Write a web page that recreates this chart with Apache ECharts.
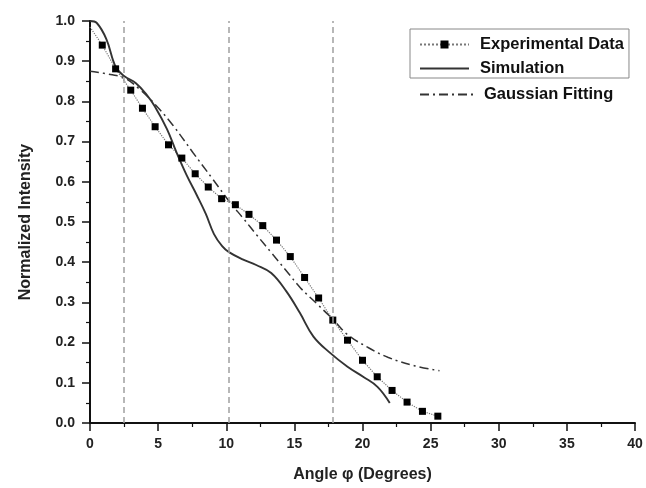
<!DOCTYPE html>
<html>
<head>
<meta charset="utf-8">
<script src="https://cdn.jsdelivr.net/npm/echarts@6/dist/echarts.min.js"></script>
<style>html,body{margin:0;padding:0;background:#fff}#c{width:646px;height:488px}</style>
</head>
<body>
<div id="c"></div>
<script>
var expX = [0, 0.9, 1.88, 2.99, 3.85, 4.78, 5.76, 6.74, 7.72, 8.68, 9.66, 10.67, 11.67, 12.68, 13.69, 14.7, 15.75, 16.78, 17.82, 18.9, 20.0, 21.08, 22.17, 23.27, 24.4, 25.53];
var expY = [0.985, 0.94, 0.881, 0.828, 0.783, 0.737, 0.692, 0.659, 0.62, 0.587, 0.558, 0.543, 0.519, 0.491, 0.455, 0.414, 0.362, 0.311, 0.256, 0.206, 0.156, 0.115, 0.081, 0.052, 0.029, 0.017];
var simX = [0, 0.5, 1.2, 1.9, 2.55, 3.35, 4.15, 4.75, 5.65, 6.35, 7.1, 7.85, 8.5, 9.1, 9.7, 10.2, 11.2, 12.2, 13.3, 14.4, 15.4, 16.4, 17.6, 18.9, 20.1, 21.1, 22.0];
var simY = [1.0, 0.995, 0.955, 0.885, 0.862, 0.846, 0.817, 0.788, 0.731, 0.673, 0.616, 0.566, 0.52, 0.47, 0.44, 0.425, 0.407, 0.393, 0.373, 0.328, 0.274, 0.215, 0.175, 0.14, 0.114, 0.09, 0.05];
var gaussX = [0, 1.5, 2.55, 3.65, 4.85, 6.1, 7.55, 9.0, 10.25, 11.25, 12.25, 13.35, 14.45, 15.45, 16.7, 17.85, 18.9, 20.4, 21.9, 23.85, 25.65];
var gaussY = [0.875, 0.867, 0.858, 0.83, 0.79, 0.74, 0.673, 0.607, 0.55, 0.509, 0.467, 0.422, 0.377, 0.336, 0.295, 0.257, 0.22, 0.188, 0.163, 0.142, 0.13];
var markerX = [2.5, 10.2, 17.8];
var seriesNames = ['Experimental Data', 'Simulation', 'Gaussian Fitting'];
var xTitle = 'Angle φ (Degrees)';
var yTitle = 'Normalized Intensity';

function zip(a, b) { return a.map(function (v, i) { return [v, b[i]]; }); }
var expData = zip(expX, expY).map(function (p, i) {
  return i === 0 ? { value: p, symbolSize: 0 } : p;
});

var chart = echarts.init(document.getElementById('c'), null, { renderer: 'canvas' });
var font = 'Arial, "Liberation Sans", sans-serif';
var legendText = { fontFamily: font, fontWeight: 'bold', fontSize: 16.5, color: '#111', padding: [0, 0, 0, 6] };
chart.setOption({
  animation: false,
  backgroundColor: '#fff',
  grid: { left: 90, right: 11, top: 21, bottom: 61 },
  xAxis: {
    type: 'value', min: 0, max: 40, interval: 5,
    name: xTitle, nameLocation: 'middle', nameGap: 44,
    nameTextStyle: { fontFamily: font, fontWeight: 'bold', fontSize: 16, color: '#222' },
    axisLine: { onZero: false, lineStyle: { color: '#111', width: 2 } },
    axisTick: { inside: false, length: 8, lineStyle: { color: '#111', width: 1.5 } },
    minorTick: { show: true, splitNumber: 2, length: 4, lineStyle: { color: '#111', width: 1.2 } },
    axisLabel: { fontFamily: font, fontWeight: 'bold', fontSize: 14, color: '#222', margin: 14 },
    splitLine: { show: false }
  },
  yAxis: {
    type: 'value', min: 0, max: 1, interval: 0.1,
    name: yTitle, nameLocation: 'middle', nameGap: 56, nameRotate: 90,
    nameTextStyle: { fontFamily: font, fontWeight: 'bold', fontSize: 16, color: '#222' },
    axisLine: { show: true, onZero: false, lineStyle: { color: '#111', width: 2 } },
    axisTick: { show: true, inside: false, length: 8, lineStyle: { color: '#111', width: 1.5 } },
    minorTick: { show: true, splitNumber: 2, length: 4, lineStyle: { color: '#111', width: 1.2 } },
    axisLabel: { fontFamily: font, fontWeight: 'bold', fontSize: 14, color: '#222', margin: 15,
      formatter: function (v) { return v.toFixed(1); } },
    splitLine: { show: false }
  },
  legend: [{
    data: [seriesNames[0], { name: seriesNames[1], itemStyle: { opacity: 0 } }],
    orient: 'vertical', left: 410, top: 29, itemWidth: 49, itemHeight: 10, itemGap: 7,
    padding: [7, 5, 1, 9],
    borderColor: '#888', borderWidth: 1,
    textStyle: legendText
  }, {
    data: [{ name: seriesNames[2], itemStyle: { opacity: 0 } }],
    orient: 'vertical', left: 419, top: 86, itemWidth: 53, itemHeight: 10,
    padding: 0,
    textStyle: legendText
  }],
  series: [{
    name: seriesNames[0], type: 'line', data: expData,
    symbol: 'rect', symbolSize: 7,
    itemStyle: { color: '#000' },
    lineStyle: { type: 'dotted', width: 1.2, color: '#777' },
    z: 3,
    markLine: {
      silent: true, symbol: 'none', label: { show: false },
      lineStyle: { type: [6, 4], color: '#a0a0a0', width: 1.5 },
      data: markerX.map(function (x) { return [{ coord: [x, 0] }, { coord: [x, 1] }]; })
    }
  }, {
    name: seriesNames[1], type: 'line', data: zip(simX, simY),
    smooth: 0.4, symbol: 'none',
    itemStyle: { color: '#333' },
    lineStyle: { type: 'solid', width: 1.9, color: '#333' }
  }, {
    name: seriesNames[2], type: 'line', data: zip(gaussX, gaussY),
    smooth: 0.4, symbol: 'none',
    itemStyle: { color: '#333' },
    lineStyle: { type: [9, 4, 2, 4], width: 1.5, color: '#333' }
  }]
});
</script>
</body>
</html>
